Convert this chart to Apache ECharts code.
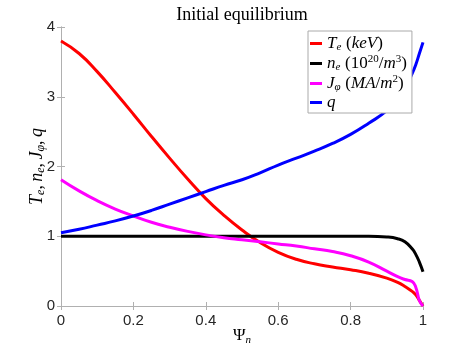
<!DOCTYPE html>
<html><head><meta charset="utf-8">
<script src="https://cdn.jsdelivr.net/npm/echarts@6/dist/echarts.min.js"></script>
<style>html,body{margin:0;padding:0;background:#fff}#c{width:469px;height:352px}</style>
</head><body><div id="c"></div>
<script>
const psi = [0,0.05,0.1,0.15,0.2,0.25,0.3,0.35,0.4,0.45,0.5,0.55,0.6,0.65,0.7,0.75,0.8,0.85,0.9,0.93,0.95,0.97,0.98,0.99,1.0];
const Te  = [3.80,3.62,3.36,3.06,2.75,2.43,2.12,1.82,1.54,1.30,1.09,0.91,0.77,0.67,0.605,0.56,0.52,0.47,0.40,0.34,0.28,0.21,0.16,0.08,0.0];
const ne  = [1,1,1,1,1,1,1,1,1,1,1,1,1,1,1,1,1,1,0.99,0.965,0.92,0.82,0.74,0.63,0.49];
const J   = [1.81,1.65,1.51,1.39,1.29,1.20,1.13,1.07,1.02,0.98,0.95,0.92,0.89,0.86,0.82,0.78,0.72,0.63,0.50,0.42,0.38,0.35,0.27,0.08,0.0];
const q   = [1.05,1.10,1.16,1.22,1.29,1.37,1.46,1.55,1.64,1.73,1.81,1.91,2.02,2.12,2.22,2.33,2.46,2.62,2.80,2.97,3.12,3.33,3.46,3.62,3.78];
const xTicks = [0,0.2,0.4,0.6,0.8,1];
const yTicks = [0,1,2,3,4];
const names = ['Te','ne','J','q'];
const colors = ['#ff0000','#000000','#ff00ff','#0000ff'];
const values = [Te,ne,J,q];

const serif = 'Liberation Serif';
function mkRich(fs, lh){
  const sub = Math.round(fs*0.65);
  return {
    i:{fontFamily:serif,fontStyle:'italic',fontSize:fs,color:'#000',lineHeight:lh},
    n:{fontFamily:serif,fontSize:fs,color:'#000',lineHeight:lh},
    s:{fontFamily:serif,fontStyle:'italic',fontSize:sub,color:'#000',lineHeight:lh,padding:[Math.round(fs*0.45),0,0,0]},
    sup:{fontFamily:serif,fontSize:sub,color:'#000',lineHeight:lh,padding:[0,0,Math.round(fs*0.45),0]}
  };
}
const legendText = {
  Te:'{i|T}{s|e} {n|(}{i|keV}{n|)}',
  ne:'{i|n}{s|e} {n|(10}{sup|20}{n|/}{i|m}{sup|3}{n|)}',
  J:'{i|J}{s|φ} {n|(}{i|MA}{n|/}{i|m}{sup|2}{n|)}',
  q:'{i|q}'
};
const axisCol = '#b0b0b0';
const chart = echarts.init(document.getElementById('c'));
chart.setOption({
  animation:false,
  title:{text:'Initial equilibrium',left:237,textAlign:'center',top:1,
    textStyle:{fontFamily:serif,fontWeight:'normal',fontSize:18,color:'#000'}},
  grid:{left:61,right:46,top:27,bottom:46,containLabel:false,outerBoundsMode:'none'},
  legend:{orient:'vertical',left:308,top:31,itemWidth:12,itemHeight:3,itemGap:1,
    padding:[3,5,2,2],backgroundColor:'#fff',borderColor:'#aaa',borderWidth:1,borderRadius:0,
    data:names.map(n=>({name:n,icon:'rect'})),
    formatter:n=>legendText[n],textStyle:{rich:mkRich(17,17),fontSize:17}},
  xAxis:[
    {type:'value',min:xTicks[0],max:xTicks[xTicks.length-1],interval:0.2,
     name:'{n|Ψ}{s|n}',nameLocation:'middle',nameGap:20,nameMoveOverlap:false,nameTextStyle:{rich:mkRich(17,20)},
     axisLine:{lineStyle:{color:axisCol}},axisTick:{inside:true,length:4,lineStyle:{color:axisCol}},
     axisLabel:{color:'#262626',fontSize:15,fontFamily:'Liberation Sans',margin:7},splitLine:{show:false}},
    {type:'value',position:'top',min:0,max:1,interval:0.2,
     axisLine:{show:true,lineStyle:{color:axisCol}},axisTick:{inside:true,length:4,lineStyle:{color:axisCol}},
     axisLabel:{show:false},splitLine:{show:false}}
  ],
  yAxis:[
    {type:'value',min:yTicks[0],max:yTicks[yTicks.length-1],interval:1,
     name:'{i|T}{s|e}{n|,} {i|n}{s|e}{n|,} {i|J}{s|φ}{n|,} {i|q}',nameLocation:'middle',nameGap:14,nameRotate:90,
     nameMoveOverlap:false,nameTextStyle:{rich:mkRich(18,20)},
     axisLine:{show:true,lineStyle:{color:axisCol}},axisTick:{show:true,inside:true,length:4,lineStyle:{color:axisCol}},
     axisLabel:{color:'#262626',fontSize:15,fontFamily:'Liberation Sans',margin:6},splitLine:{show:false}},
    {type:'value',position:'right',min:0,max:4,interval:1,
     axisLine:{show:true,lineStyle:{color:axisCol}},axisTick:{show:true,inside:true,length:4,lineStyle:{color:axisCol}},
     axisLabel:{show:false},splitLine:{show:false}}
  ],
  series:names.map((n,k)=>({
    name:n,type:'line',xAxisIndex:0,yAxisIndex:0,smooth:0.5,showSymbol:false,
    color:colors[k],lineStyle:{width:3,color:colors[k]},
    data:psi.map((x,i)=>[x,values[k][i]])
  }))
});
</script></body></html>
